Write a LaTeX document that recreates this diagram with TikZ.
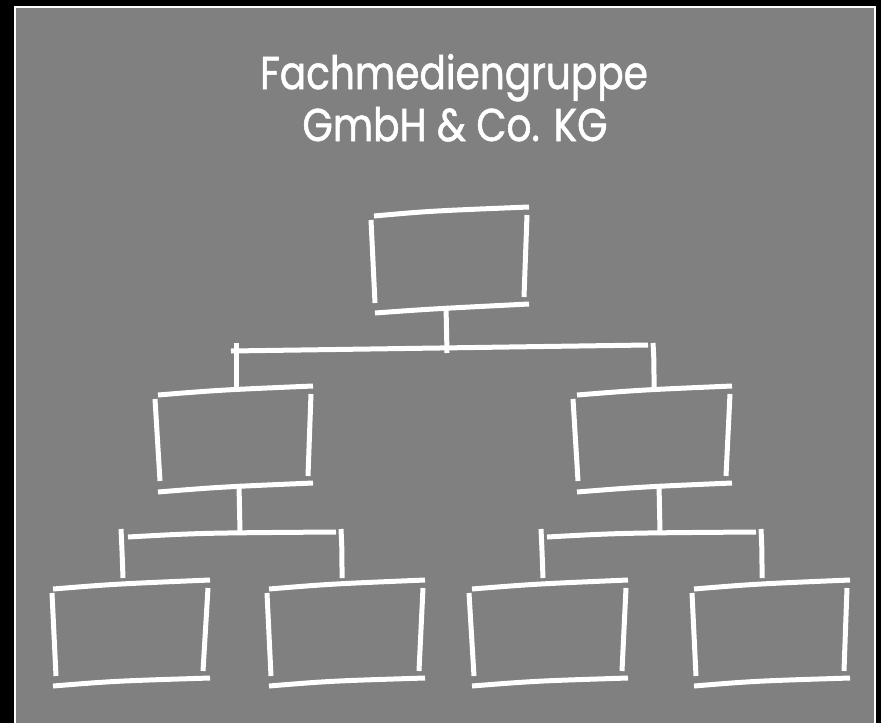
\documentclass[tikz,border=0pt]{standalone}
\usepackage{fontspec}
\setmainfont{Poppins}[FakeStretch=0.85,FakeBold=1.2]
\definecolor{panelgray}{HTML}{808080}
\tikzset{
  stroke/.style={draw=white, line width=5pt, line cap=butt},
  titletext/.style={text=white, font=\fontsize{46}{52}\selectfont, anchor=base, inner sep=0pt}
}
\begin{document}
\begin{tikzpicture}[x=1pt,y=-1pt]
% background and panel
\fill[black] (0,0) rectangle (881,723);
\fill[white] (14,6) rectangle (876,723);
\fill[panelgray] (16,8) rectangle (874,723);

% title
\node[titletext] (t1) at (454,89) {Fachmediengruppe};
\node[titletext] (t2) at (455,141) {GmbH \& Co. KG};

% ---- top box
\coordinate (rootbot) at (446,306);
\draw[stroke] (374,216) .. controls (430,211) .. (529,207);
\draw[stroke] (371,220) -- (375,303);
\draw[stroke] (527,215) -- (524,297);
\draw[stroke] (375,313) .. controls (430,309) .. (529,304);

% level-1 bar
\coordinate (barA) at (447,353);
\coordinate (barAl) at (231,351);
\coordinate (barAr) at (648,345);
\draw[stroke] (rootbot) -- (barA);
\draw[stroke] (barAl) -- (barAr);
\coordinate (dropLt) at (236,343);
\coordinate (dropLb) at (236,387);
\coordinate (dropRt) at (653,343);
\coordinate (dropRb) at (654,387);
\draw[stroke] (dropLt) -- (dropLb);
\draw[stroke] (dropRt) .. controls (654,360) .. (dropRb);

% ---- middle left box
\draw[stroke] (158,395) .. controls (220,390) .. (313,386);
\draw[stroke] (155,399) -- (160,481);
\draw[stroke] (311,394) -- (308,476);
\draw[stroke] (158,492) .. controls (220,487) .. (313,483);

% ---- middle right box
\draw[stroke] (577,395) .. controls (640,390) .. (732,386);
\draw[stroke] (573,399) -- (578,481);
\draw[stroke] (730,394) -- (726,476);
\draw[stroke] (577,492) .. controls (640,487) .. (732,483);

% level-2 bars, left
\coordinate (stemLt) at (239,484);
\coordinate (stemLb) at (240,532);
\draw[stroke] (stemLt) -- (stemLb);
\draw[stroke] (128,537) .. controls (200,533) .. (336,532);
\draw[stroke] (121,529) .. controls (122,550) .. (123,578);
\draw[stroke] (341,529) .. controls (342,550) .. (342,578);

% level-2 bars, right
\coordinate (stemRt) at (659,484);
\coordinate (stemRb) at (660,532);
\draw[stroke] (stemRt) -- (stemRb);
\draw[stroke] (547,537) .. controls (620,533) .. (756,532);
\draw[stroke] (541,529) .. controls (542,550) .. (543,578);
\draw[stroke] (761,529) .. controls (762,550) .. (762,578);

% ---- bottom boxes
\draw[stroke] (53,589) .. controls (115,584) .. (210,580);
\draw[stroke] (52,593) -- (56,676);
\draw[stroke] (208,588) -- (203,671);
\draw[stroke] (53,686) .. controls (115,681) .. (210,678);

\draw[stroke] (269,589) .. controls (330,584) .. (425,580);
\draw[stroke] (267,593) -- (271,676);
\draw[stroke] (423,588) -- (419,671);
\draw[stroke] (269,686) .. controls (330,681) .. (425,678);

\draw[stroke] (472,589) .. controls (535,584) .. (628,580);
\draw[stroke] (469,593) -- (474,676);
\draw[stroke] (626,588) -- (622,671);
\draw[stroke] (472,686) .. controls (535,681) .. (628,678);

\draw[stroke] (694,589) .. controls (755,584) .. (850,580);
\draw[stroke] (692,593) -- (696,676);
\draw[stroke] (847,588) -- (844,671);
\draw[stroke] (694,686) .. controls (755,681) .. (850,678);
\end{tikzpicture}
\end{document}
